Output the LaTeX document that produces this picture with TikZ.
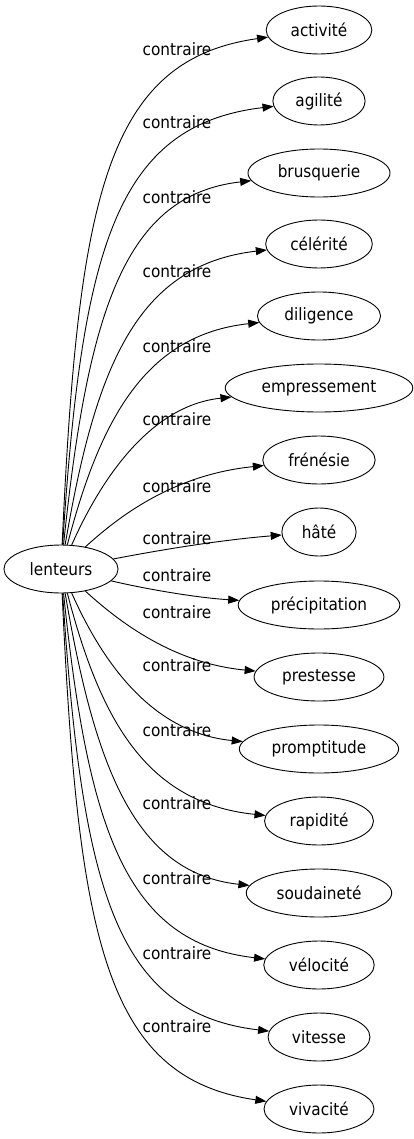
\documentclass[tikz,border=0pt]{standalone}
\usepackage{fontspec}
\setmainfont{DejaVu Sans Condensed}
\usetikzlibrary{arrows.meta,shapes.geometric}
\tikzset{
  mot/.style={ellipse, draw, line width=0.9pt, inner xsep=9pt, inner ysep=2pt,
    minimum height=48pt, font=\fontsize{17}{20}\selectfont},
  etiq/.style={inner sep=0pt, font=\fontsize{17}{20}\selectfont},
  lien/.style={-{Triangle[length=11pt,width=8pt]}, line width=0.9pt}
}
\begin{document}
\begin{tikzpicture}[x=1pt, y=-1pt]
    \useasboundingbox (0,0) rectangle (413,1139);
    \node[mot] (lent) at (61,569) {lenteurs};
    % y du mot / mot / y etiquette / points de controle
    \foreach \ny/\mot/\ly/\ax/\ay/\bx/\by [count=\i] in {
        30/activité/49/78/200/105/60,
        101/agilité/122/82/250/115/125,
        173/brusquerie/197/88/310/125/195,
        244/célérité/271/95/370/135/265,
        316/diligence/346/100/420/145/335,
        388/empressement/419/105/470/155/405,
        460/frénésie/486/115/520/170/475,
        532/hâté/538/160/550/220/540,
        605/précipitation/575/150/590/200/598,
        677/prestesse/612/115/618/170/663,
        749/promptitude/665/105/668/155/733,
        821/rapidité/730/100/718/145/803,
        893/soudaineté/803/95/768/135/873,
        965/vélocité/878/88/828/125/943,
        1037/vitesse/953/82/888/115/1013,
        1109/vivacité/1026/78/938/105/1078}
    {
        \node[mot] (n\i) at (319,\ny) {\mot};
        \node[etiq] (e\i) at (177,\ly) {contraire};
        \draw[lien] (lent) .. controls (\ax,\ay) and (\bx,\by) .. (n\i);
    }
\end{tikzpicture}
\end{document}
